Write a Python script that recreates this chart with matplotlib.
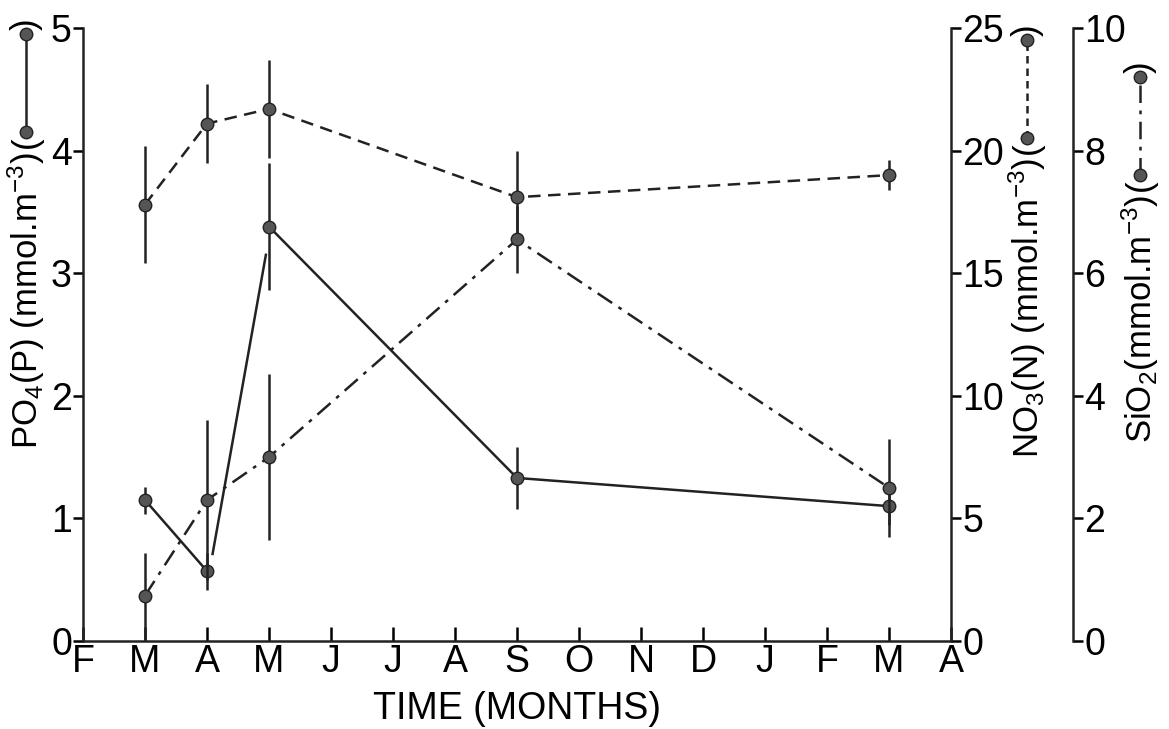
import matplotlib.pyplot as plt
import numpy as np

plt.rcParams['font.family'] = ['Liberation Sans', 'DejaVu Sans']
plt.rcParams['mathtext.fontset'] = 'custom'
plt.rcParams['mathtext.rm'] = 'Liberation Sans'
plt.rcParams['mathtext.it'] = 'Liberation Sans'

months = ["F", "M", "A", "M", "J", "J", "A", "S", "O", "N", "D", "J", "F", "M", "A"]

# PO4 (P), left axis
po4_x = [1, 2, 3, 7, 13]
po4_y = [1.15, 0.57, 3.38, 1.33, 1.10]
po4_err = [0.11, 0.15, 0.52, 0.25, 0.15]
# the A->M rise is drawn as a detached segment in the original
po4_seg_x = [2.09, 2.95]
po4_seg_y = [0.71, 3.15]

# NO3 (N), first right axis
no3_x = [1, 2, 3, 7, 13]
no3_y = [17.8, 21.1, 21.7, 18.1, 19.0]
no3_err = [2.4, 1.6, 2.0, 1.9, 0.6]

# SiO2, second right axis
si_x = [1, 2, 3, 7, 13]
si_y = [0.74, 2.3, 3.0, 6.55, 2.5]
si_err = [0.7, 1.3, 1.36, 0.55, 0.8]

fig = plt.figure(figsize=(11.69, 7.29), dpi=100)
ax = fig.add_axes([0.071, 0.1207, 0.7425, 0.8409])
ax2 = ax.twinx()
ax3 = ax.twinx()
ax3.spines['right'].set_position(('axes', 1 + 122 / 868))

lw = 1.8
ink = '#222222'
mk = dict(marker='o', markersize=9, markerfacecolor='#555555', markeredgecolor=ink)
dashdot = (0, (7, 3, 1.5, 3))

ax.errorbar(po4_x[:2], po4_y[:2], yerr=po4_err[:2], color=ink, lw=lw, elinewidth=lw, capsize=0, **mk)
ax.errorbar(po4_x[2:], po4_y[2:], yerr=po4_err[2:], color=ink, lw=lw, elinewidth=lw, capsize=0, **mk)
ax.plot(po4_seg_x, po4_seg_y, color=ink, lw=lw)

ax2.errorbar(no3_x, no3_y, yerr=no3_err, color=ink, lw=lw, ls=(0, (5, 3)), elinewidth=lw, capsize=0, **mk)
ax3.errorbar(si_x, si_y, yerr=si_err, color=ink, lw=lw, ls=dashdot, elinewidth=lw, capsize=0, **mk)

ax.set_xlim(0, 14)
ax.set_ylim(0, 5)
ax2.set_ylim(0, 25)
ax3.set_ylim(0, 10)

fs = 27
lfs = 25
ax.set_xticks(range(len(months)))
ax.set_xticklabels(months, fontsize=fs)
ax.tick_params(axis='x', direction='in', length=10, width=1.8, pad=2)
ax.set_yticks(np.arange(0, 6, 1))
ax.tick_params(axis='y', direction='out', length=7, width=1.8, labelsize=fs, pad=1)
ax2.set_yticks(np.arange(0, 30, 5))
ax2.tick_params(axis='y', direction='out', length=7, width=1.8, labelsize=fs, pad=1)
ax3.set_yticks(np.arange(0, 12, 2))
ax3.tick_params(axis='y', direction='out', length=7, width=1.8, labelsize=fs, pad=1)

for a in (ax, ax2, ax3):
    for s in a.spines.values():
        s.set_linewidth(1.8)
        s.set_color(ink)
    a.spines['top'].set_visible(False)
ax2.spines['left'].set_visible(False)
ax3.spines['left'].set_visible(False)
ax3.spines['bottom'].set_visible(False)
ax.spines['right'].set_visible(False)
ax2.spines['bottom'].set_visible(False)

ax.set_xlabel("TIME (MONTHS)", fontsize=fs, labelpad=8)


def side_label(xpx, ytop_px, text, ls):
    # rotated label text with a line+marker key in brackets above it
    W, H = 1169, 729
    fig.text(xpx / W, 1 - (ytop_px + 12) / H, text, rotation=90, fontsize=lfs,
             ha='center', va='top')
    fig.text(xpx / W, 1 - (ytop_px + 2) / H, "(", rotation=90, fontsize=lfs, ha='center', va='center')
    y1 = 1 - (ytop_px - 8) / H
    y2 = 1 - (ytop_px - 106) / H
    fig.add_artist(plt.Line2D([xpx / W, xpx / W], [y1, y2], transform=fig.transFigure,
                              color=ink, lw=lw, ls=ls, **mk))
    fig.text(xpx / W, 1 - (ytop_px - 116) / H, ")", rotation=90, fontsize=lfs, ha='center', va='center')


side_label(26, 140, "PO$_4$(P) (mmol.m$^{-3}$)", '-')
side_label(1027, 146, "NO$_3$(N) (mmol.m$^{-3}$)", (0, (3, 2)))
side_label(1140, 183, "SiO$_2$(mmol.m$^{-3}$)", dashdot)

fig.savefig("out.png", dpi=100)
